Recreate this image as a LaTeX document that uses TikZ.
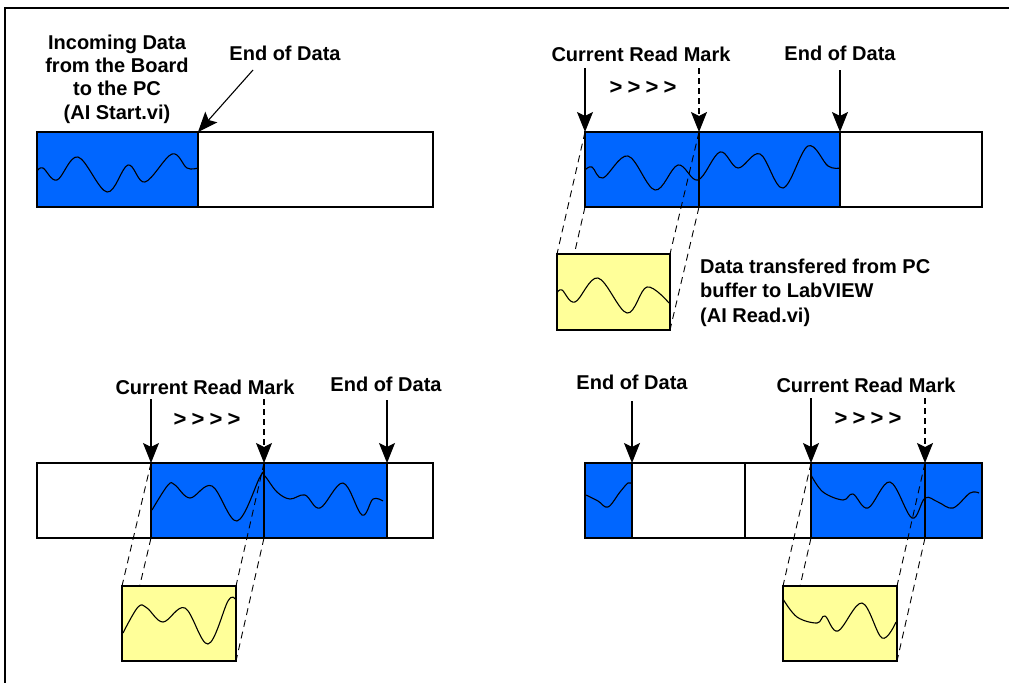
\documentclass[tikz,border=0pt]{standalone}
\usepackage{fontspec}
\setmainfont{Liberation Sans}
\usetikzlibrary{arrows.meta}
\definecolor{bufblue}{RGB}{0,102,255}
\definecolor{bufyellow}{RGB}{255,255,153}
\begin{document}
\begin{tikzpicture}[x=1pt,y=-1pt,
  lbl/.style={font=\fontsize{20}{23.3}\selectfont\bfseries, inner sep=0pt, anchor=base},
  chev/.style={font=\fontsize{22}{24}\selectfont\bfseries, inner sep=0pt},
  outl/.style={draw=black, line width=1.4pt},
  wave/.style={line width=1.1pt, line join=round},
  proj/.style={dash pattern=on 7pt off 5pt, line width=0.9pt},
  ptr/.style={line width=1.1pt, -{Stealth[length=20pt,width=16pt,inset=4pt]}},
  dptr/.style={ptr, dash pattern=on 6pt off 4pt},
  ybox/.style={fill=bufyellow, draw=black, line width=1.4pt},
]
\useasboundingbox (0,0) rectangle (1009,683);
\fill[white] (0,0) rectangle (1009,683);
\draw[line width=2pt] (1009,8) -- (5,8) -- (5,683);

% ---------------- Panel 1 ----------------
\fill[bufblue] (37,132) rectangle (198,207);
\draw[wave] plot[smooth,tension=0.6] coordinates {(37,171) (43,168) (57,180) (78,157) (107,192) (128,165) (145,182) (172,154) (187,168) (198,168)};
\draw[outl] (37,132) rectangle (433,207);
\draw[outl] (198,132) -- (198,207);
\node[lbl, align=center] (inc) at (117,119) {Incoming Data\\from the Board\\to the PC\\(AI Start.vi)};
\node[lbl] (eod1) at (285,60) {End of Data};
\coordinate (eod1s) at (253,70);
\coordinate (p1end) at (198,132);
\draw[ptr] (eod1s) -- (p1end);

% ---------------- Panel 2 ----------------
\coordinate (b2a) at (585,132); \coordinate (b2ab) at (585,207);
\coordinate (b2m) at (699,132); \coordinate (b2mb) at (699,207);
\coordinate (b2e) at (840,132);
\fill[bufblue] (585,132) rectangle (840,207);
\draw[wave] plot[smooth,tension=0.6] coordinates {(585,170) (592,167) (603,178) (628,156) (655,190) (678,165) (698,180) (720,152) (738,168) (760,154) (783,188) (808,146) (828,166) (840,168)};
\draw[outl] (585,132) rectangle (982,207);
\draw[outl] (699,132) -- (699,207);
\draw[outl] (840,132) -- (840,207);
\coordinate (y2tl) at (557,254); \coordinate (y2bl) at (557,330);
\coordinate (y2tr) at (670,254); \coordinate (y2br) at (670,330);
\draw[proj] (b2a) -- (y2tl);
\draw[proj] (b2ab) -- (y2bl);
\draw[proj] (b2m) -- (y2tr);
\draw[proj] (b2mb) -- (y2br);
\draw[ybox] (y2tl) rectangle (y2br);
\draw[wave] plot[smooth,tension=0.6] coordinates {(557,293) (562,290) (575,302) (598,278) (627,313) (647,287) (669,303)};
\node[lbl] (crm2) at (641,61) {Current Read Mark};
\node[lbl] (eod2) at (840,60) {End of Data};
\node[chev] (chv2) at (643,88) {>\hskip5.2pt>\hskip5.2pt>\hskip5.2pt>};
\coordinate (a2s) at (585,68); \coordinate (m2s) at (699,68); \coordinate (e2s) at (840,70);
\draw[ptr] (a2s) -- (b2a);
\draw[dptr] (m2s) -- (b2m);
\draw[ptr] (e2s) -- (b2e);
\node[lbl, anchor=base west, align=left, font=\fontsize{20}{24.5}\selectfont\bfseries] (txt2) at (700,322) {Data transfered from PC\\buffer to LabVIEW\\(AI Read.vi)};

% ---------------- Panel 3 ----------------
\coordinate (b3a) at (151,463); \coordinate (b3ab) at (151,538);
\coordinate (b3m) at (264,463); \coordinate (b3mb) at (264,538);
\coordinate (b3e) at (387,463);
\fill[bufblue] (151,463) rectangle (387,538);
\draw[wave] plot[smooth,tension=0.6] coordinates {(152,510) (168,485) (175,485) (190,498) (212,486) (237,521) (260,477) (264,475) (277,492) (290,499) (305,495) (320,508) (343,483) (362,515) (373,499) (383,501)};
\draw[outl] (37,463) rectangle (433,538);
\draw[outl] (151,463) -- (151,538);
\draw[outl] (264,463) -- (264,538);
\draw[outl] (387,463) -- (387,538);
\coordinate (y3tl) at (122,586); \coordinate (y3bl) at (122,661);
\coordinate (y3tr) at (236,586); \coordinate (y3br) at (236,661);
\draw[proj] (b3a) -- (y3tl);
\draw[proj] (b3ab) -- (y3bl);
\draw[proj] (b3m) -- (y3tr);
\draw[proj] (b3mb) -- (y3br);
\draw[ybox] (y3tl) rectangle (y3br);
\draw[wave] plot[smooth,tension=0.6] coordinates {(123,633) (138,607) (147,608) (163,622) (185,608) (208,644) (228,601) (235,599)};
\node[lbl] (crm3) at (205,394) {Current Read Mark};
\node[lbl] (eod3) at (386,391) {End of Data};
\node[chev] (chv3) at (207,420) {>\hskip5.2pt>\hskip5.2pt>\hskip5.2pt>};
\coordinate (a3s) at (151,399); \coordinate (m3s) at (264,399); \coordinate (e3s) at (387,400);
\draw[ptr] (a3s) -- (b3a);
\draw[dptr] (m3s) -- (b3m);
\draw[ptr] (e3s) -- (b3e);

% ---------------- Panel 4 ----------------
\coordinate (b4e) at (632,463);
\coordinate (b4a) at (811,463); \coordinate (b4ab) at (811,538);
\coordinate (b4m) at (925,463); \coordinate (b4mb) at (925,538);
\fill[bufblue] (585,463) rectangle (632,538);
\fill[bufblue] (811,463) rectangle (982,538);
\draw[wave] plot[smooth,tension=0.6] coordinates {(586,495) (598,501) (608,507) (620,492) (628,483) (632,484)};
\draw[wave] plot[smooth,tension=0.6] coordinates {(811,475) (823,492) (843,500) (853,494) (868,508) (890,482) (912,518) (925,498) (938,502) (953,508) (970,493) (979,493)};
\draw[outl] (585,463) rectangle (982,538);
\draw[outl] (632,463) -- (632,538);
\draw[outl] (745,463) -- (745,538);
\draw[outl] (811,463) -- (811,538);
\draw[outl] (925,463) -- (925,538);
\coordinate (y4tl) at (783,586); \coordinate (y4bl) at (783,661);
\coordinate (y4tr) at (897,586); \coordinate (y4br) at (897,661);
\draw[proj] (b4a) -- (y4tl);
\draw[proj] (b4ab) -- (y4bl);
\draw[proj] (b4m) -- (y4tr);
\draw[proj] (b4mb) -- (y4br);
\draw[ybox] (y4tl) rectangle (y4br);
\draw[wave] plot[smooth,tension=0.6] coordinates {(783,599) (797,617) (817,623) (825,616) (838,631) (862,603) (882,638) (896,622)};
\node[lbl] (eod4) at (632,389) {End of Data};
\node[lbl] (crm4) at (866,392) {Current Read Mark};
\node[chev] (chv4) at (868,419) {>\hskip5.2pt>\hskip5.2pt>\hskip5.2pt>};
\coordinate (e4s) at (632,401); \coordinate (a4s) at (811,398); \coordinate (m4s) at (925,398);
\draw[ptr] (e4s) -- (b4e);
\draw[ptr] (a4s) -- (b4a);
\draw[dptr] (m4s) -- (b4m);
\end{tikzpicture}
\end{document}
